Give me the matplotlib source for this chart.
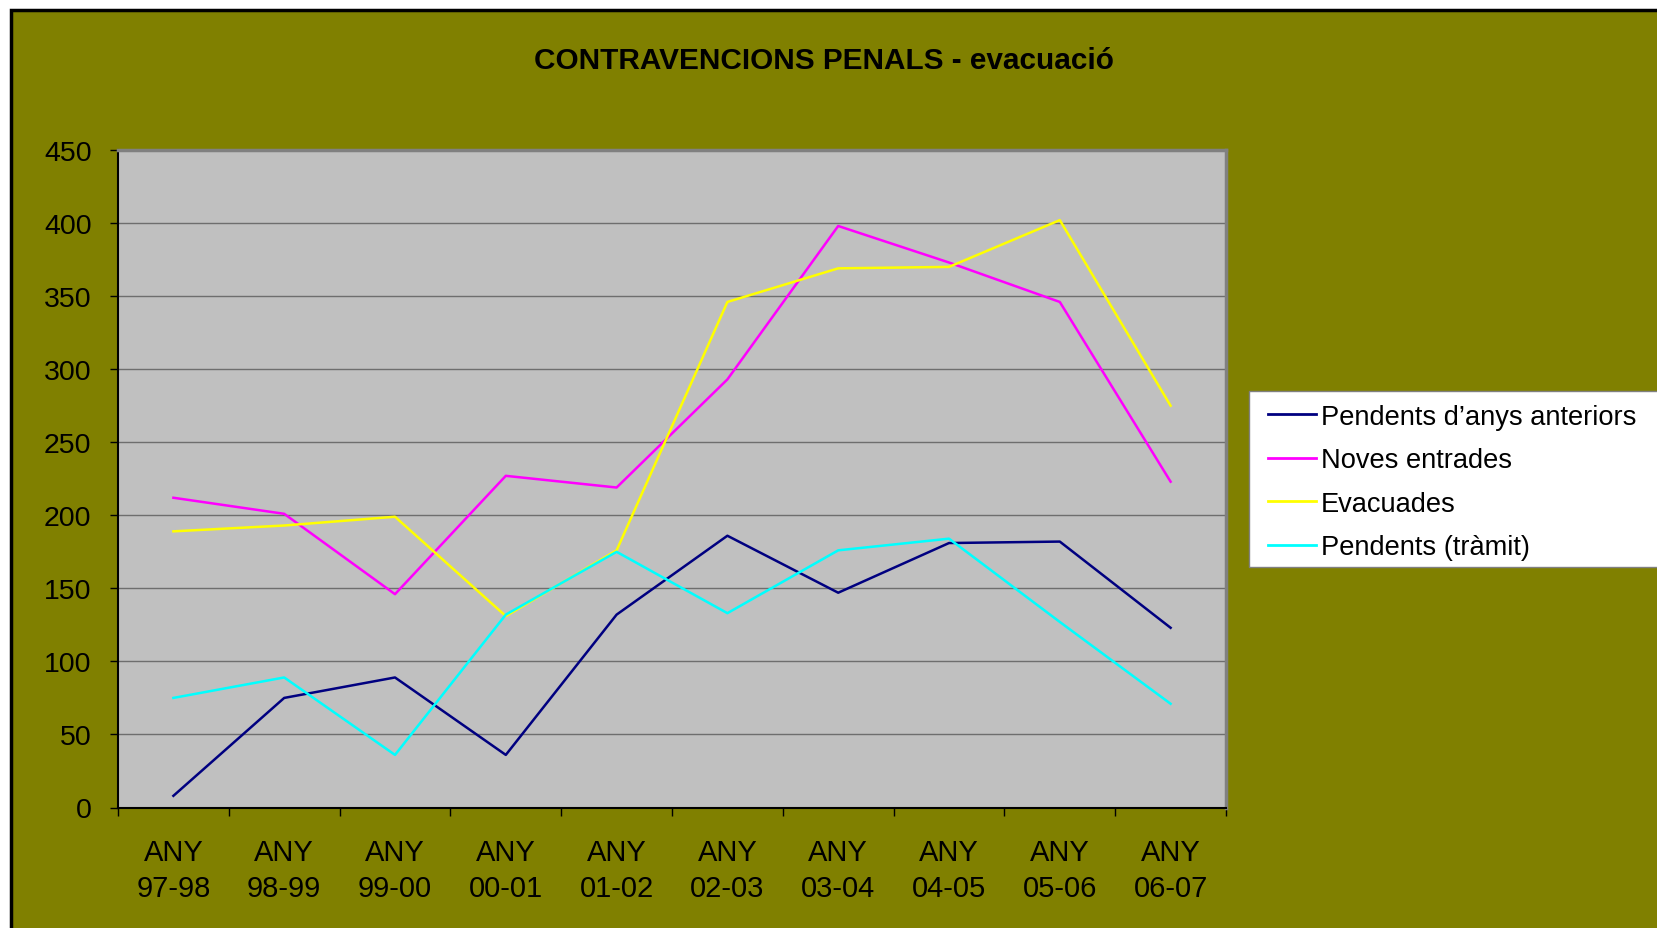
import matplotlib
matplotlib.use("Agg")
import matplotlib.pyplot as plt
from matplotlib.patches import Rectangle

plt.rcParams["font.family"] = ["Liberation Sans", "DejaVu Sans"]

CATEGORIES = ["ANY\n97-98", "ANY\n98-99", "ANY\n99-00", "ANY\n00-01", "ANY\n01-02",
              "ANY\n02-03", "ANY\n03-04", "ANY\n04-05", "ANY\n05-06", "ANY\n06-07"]

PENDENTS_ANTERIORS = [8, 75, 89, 36, 132, 186, 147, 181, 182, 123]
NOVES_ENTRADES = [212, 201, 146, 227, 219, 293, 398, 373, 346, 223]
EVACUADES = [189, 193, 199, 131, 176, 346, 369, 370, 402, 275]
PENDENTS_TRAMIT = [75, 89, 36, 132, 175, 133, 176, 184, 127, 71]

SERIES = [
    ("Pendents d\u2019anys anteriors", PENDENTS_ANTERIORS, "#000080"),
    ("Noves entrades", NOVES_ENTRADES, "#ff00ff"),
    ("Evacuades", EVACUADES, "#ffff00"),
    ("Pendents (tr\u00e0mit)", PENDENTS_TRAMIT, "#00ffff"),
]

Y_TICKS = [0, 50, 100, 150, 200, 250, 300, 350, 400, 450]

W, H = 1657, 929
fig = plt.figure(figsize=(W / 100, H / 100), dpi=100, facecolor="white")

# olive chart area with black border on top/left
fig.patches.append(Rectangle((11 / W, -0.05), 1.1, 1 - 11 / H + 0.05,
                             transform=fig.transFigure, facecolor="#808000",
                             edgecolor="black", linewidth=2.5, zorder=-5))

# legend box runs off the right edge, as in the source chart
fig.patches.append(Rectangle((1249 / W, 1 - 567.5 / H), 0.5, 175.5 / H,
                             transform=fig.transFigure, facecolor="white",
                             edgecolor="#808080", linewidth=1, zorder=-4))

ax = fig.add_axes([118 / W, 1 - 808.5 / H, (1226 - 118) / W, (808.5 - 151) / H])
ax.set_facecolor("#c0c0c0")

x = list(range(len(CATEGORIES)))
for name, values, color in SERIES:
    ax.plot(x, values, color=color, linewidth=1.8, label=name, zorder=3)

ax.set_xlim(-0.5, len(CATEGORIES) - 0.5)
ax.set_ylim(0, 450)

ax.set_yticks(Y_TICKS)
ax.set_yticklabels([str(v) for v in Y_TICKS], fontsize=20.5)
ax.tick_params(axis="y", direction="out", length=6, width=1, pad=13, color="black")

ax.set_xticks([i - 0.5 for i in range(len(CATEGORIES) + 1)])
ax.set_xticklabels([])
ax.set_xticks(x, minor=True)
ax.set_xticklabels(CATEGORIES, minor=True, fontsize=21, linespacing=1.36)
ax.tick_params(axis="x", which="major", direction="out", length=6, width=1, color="black")
ax.tick_params(axis="x", which="minor", length=0, pad=22)

for v in Y_TICKS[1:-1]:
    ax.axhline(v, color="#6e6e6e", linewidth=1, zorder=1)

ax.spines["left"].set_color("black")
ax.spines["left"].set_linewidth(1.5)
ax.spines["bottom"].set_color("black")
ax.spines["bottom"].set_linewidth(1.5)
ax.spines["top"].set_color("#808080")
ax.spines["top"].set_linewidth(2.5)
ax.spines["right"].set_color("#808080")
ax.spines["right"].set_linewidth(2.5)

fig.text(0.497, 1 - 61 / H, "CONTRAVENCIONS PENALS - evacuaci\u00f3",
         ha="center", va="center", fontsize=21.4, fontweight="bold")

leg = fig.legend(loc="upper left", bbox_to_anchor=(1253 / W, 1 - 390 / H),
                 fontsize=19.6, frameon=False, handlelength=1.75, handletextpad=0.2,
                 labelspacing=0.64, borderpad=0.55, borderaxespad=0)
for line in leg.get_lines():
    line.set_linewidth(2)

fig.savefig("out.png", dpi=100, facecolor=fig.get_facecolor())
